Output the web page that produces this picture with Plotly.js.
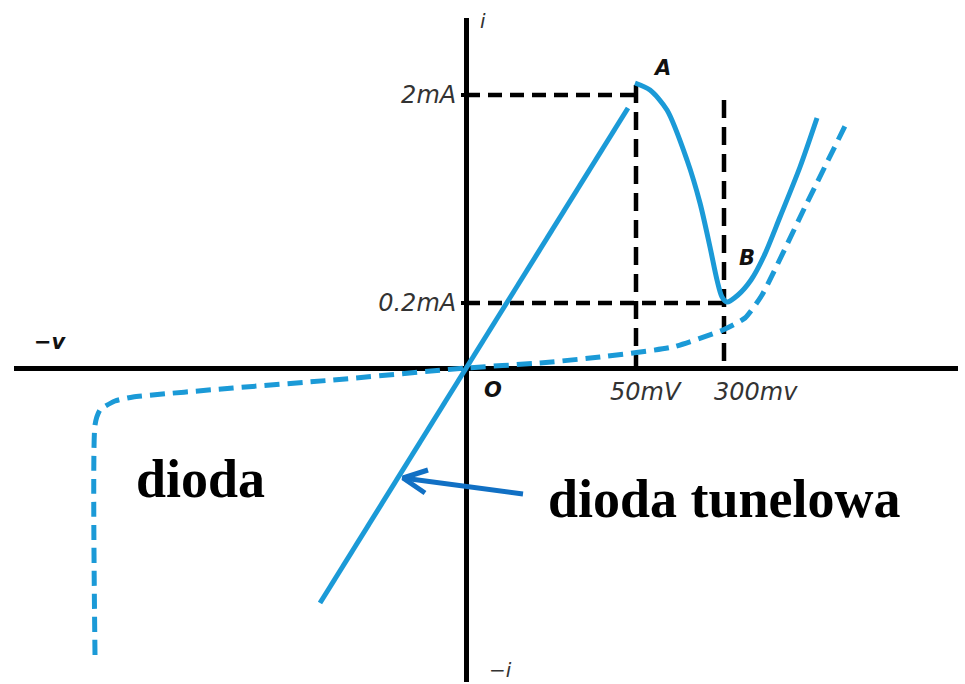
<!DOCTYPE html>
<html>
<head>
<meta charset="utf-8">
<script src="https://cdn.plot.ly/plotly-3.0.1.min.js"></script>
<style>
html,body{margin:0;padding:0;background:#fff;}
#chart{width:965px;height:684px;}
</style>
</head>
<body>
<div id="chart"></div>
<script>
// Schematic units: origin O at the crossing of the axes.
// Tunnel diode (solid): ohmic rise, peak A, valley B, then diode-like rise
const tunnelRiseX = [-146, 162];
const tunnelRiseY = [-235, 260];
const tunnelCurveX = [169, 184, 201, 221, 234, 244, 251, 256, 261, 272, 285, 298, 314, 334, 351];
const tunnelCurveY = [285, 278, 258, 208, 165, 121, 88, 71, 66, 73, 88, 112, 151, 201, 250];

// Ordinary diode (dashed): breakdown, reverse leakage, forward conduction
const diodeX = [-371, -371, -366, -351, -333, -233, -133, 0, 74, 134, 207, 257, 279, 296, 339, 382];
const diodeY = [-287, -57, -42, -33, -29, -20, -12, 0, 5, 11, 21, 38, 50, 73, 161, 248];

// Reference levels
const peakV = 170, valleyV = 258;      // 50mV, 300mv
const peakI = 273, valleyI = 65;       // 2mA, 0.2mA
const peakGuideTop = 283, valleyGuideTop = 268;

// Tick labels
const yTickVals = [peakI, valleyI];
const yTickText = ['2mA', '0.2mA'];
const xLabelVals = [142, 246];
const xLabelText = ['50mV', '300mv'];

// Arrow pointing at the tunnel diode line
const arrowX = [57, -63, null, -38, -63, -41];
const arrowY = [-126, -110, null, -102, -110, -125];

const blue = '#1b9ad7';
const black = '#000000';

const traces = [
  {x: [0, peakV], y: [peakI, peakI], mode: 'lines', line: {color: black, width: 4.5, dash: '14px,8px'}, hoverinfo: 'skip'},
  {x: [peakV, peakV], y: [peakGuideTop, 0], mode: 'lines', line: {color: black, width: 4.5, dash: '18px,9px'}, hoverinfo: 'skip'},
  {x: [0, valleyV], y: [valleyI, valleyI], mode: 'lines', line: {color: black, width: 4.5, dash: '14px,8px'}, hoverinfo: 'skip'},
  {x: [valleyV, valleyV], y: [valleyGuideTop, 0], mode: 'lines', line: {color: black, width: 4.5, dash: '18px,9px'}, hoverinfo: 'skip'},
  {x: diodeX, y: diodeY, mode: 'lines', line: {color: blue, width: 5, dash: '15px,8px', shape: 'spline', smoothing: 0.5}, hoverinfo: 'skip'},
  {x: tunnelRiseX, y: tunnelRiseY, mode: 'lines', line: {color: blue, width: 5}, hoverinfo: 'skip'},
  {x: tunnelCurveX, y: tunnelCurveY, mode: 'lines', line: {color: blue, width: 5, shape: 'spline', smoothing: 0.8}, hoverinfo: 'skip'},
  {x: arrowX, y: arrowY, mode: 'lines', line: {color: '#1170c4', width: 5}, hoverinfo: 'skip'}
];

const smallFont = {family: 'DejaVu Sans', size: 24, color: '#333333', style: 'italic'};
const boldItalic = {family: 'DejaVu Sans', size: 21, color: '#111111', style: 'italic', weight: 'bold'};
const bigSerif = {family: 'Liberation Serif', size: 54, color: '#000000', weight: 'bold'};

const annotations = [];
xLabelVals.forEach((v, i) => annotations.push({x: v, y: -8, text: xLabelText[i], showarrow: false, xanchor: 'left', yanchor: 'top', font: smallFont}));
annotations.push(
  {x: 196, y: 300, text: 'A', showarrow: false, font: boldItalic},
  {x: 281, y: 110, text: 'B', showarrow: false, font: boldItalic},
  {x: 27, y: -22, text: 'O', showarrow: false, font: boldItalic},
  {x: -416, y: 26, text: '−v', showarrow: false, font: boldItalic},
  {x: 17, y: 347, text: 'i', showarrow: false, font: {family: 'DejaVu Sans', size: 20, color: '#333333', style: 'italic'}},
  {x: 34, y: -302, text: '−i', showarrow: false, font: {family: 'DejaVu Sans', size: 20, color: '#333333', style: 'italic'}},
  {x: -332, y: -111, text: 'dioda', showarrow: false, xanchor: 'left', font: bigSerif},
  {x: 80, y: -131, text: 'dioda tunelowa', showarrow: false, xanchor: 'left', font: bigSerif}
);
annotations.forEach(a => { a.xref = 'x'; a.yref = 'y'; });

const layout = {
  width: 965, height: 684,
  margin: {l: 14, r: 7, t: 18, b: 2},
  paper_bgcolor: '#ffffff', plot_bgcolor: '#ffffff',
  showlegend: false,
  xaxis: {range: [-452, 492], showgrid: false, zeroline: true, zerolinecolor: black, zerolinewidth: 5,
          showticklabels: false, ticks: '', showline: false, fixedrange: true},
  yaxis: {range: [-314, 350], showgrid: false, zeroline: true, zerolinecolor: black, zerolinewidth: 5,
          anchor: 'free', position: 452 / 944,
          tickvals: yTickVals, ticktext: yTickText, ticks: 'outside', ticklen: 5, tickwidth: 4, tickcolor: black,
          tickfont: smallFont, showline: false, fixedrange: true},
  annotations: annotations
};

Plotly.newPlot('chart', traces, layout, {displayModeBar: false, staticPlot: true});
</script>
</body>
</html>
